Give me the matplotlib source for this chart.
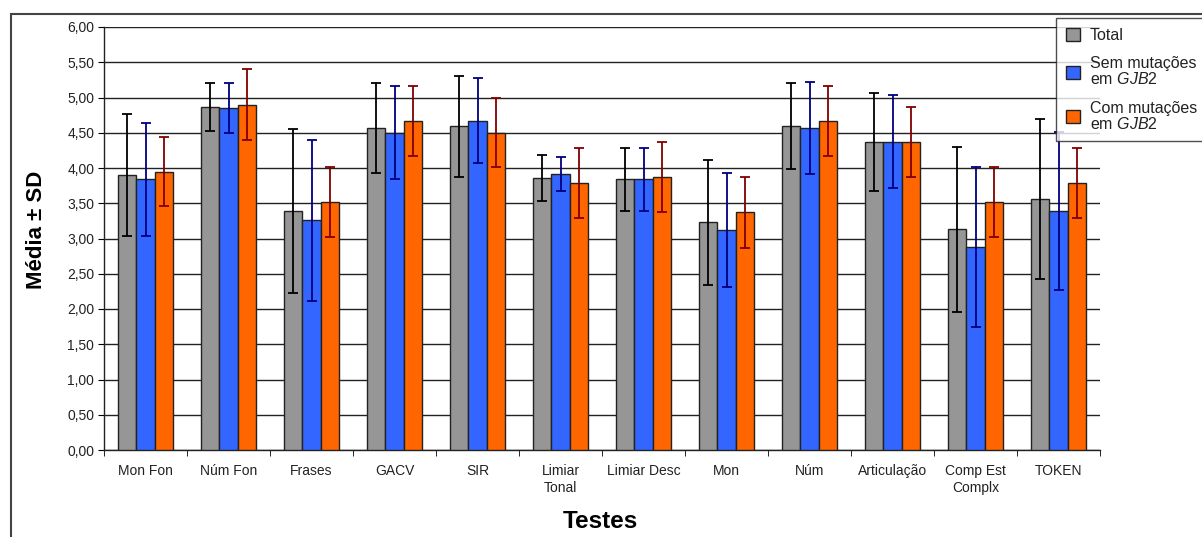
import numpy as np
import matplotlib
matplotlib.use("Agg")
import matplotlib.pyplot as plt
from matplotlib.patches import Rectangle
from matplotlib.ticker import FuncFormatter, MultipleLocator

plt.rcParams["font.family"] = ["Liberation Sans", "DejaVu Sans"]
plt.rcParams["mathtext.fontset"] = "custom"
plt.rcParams["mathtext.it"] = "Liberation Sans:italic"
plt.rcParams["mathtext.rm"] = "Liberation Sans"

categories = ["Mon Fon", "Núm Fon", "Frases", "GACV", "SIR", "Limiar\nTonal",
              "Limiar Desc", "Mon", "Núm", "Articulação", "Comp Est\nComplx", "TOKEN"]

# medias
total = [3.90, 4.87, 3.39, 4.57, 4.59, 3.86, 3.84, 3.23, 4.59, 4.37, 3.13, 3.56]
sem_mut = [3.84, 4.85, 3.26, 4.50, 4.67, 3.92, 3.84, 3.12, 4.57, 4.37, 2.88, 3.39]
com_mut = [3.95, 4.90, 3.52, 4.67, 4.50, 3.79, 3.87, 3.37, 4.67, 4.37, 3.52, 3.79]

# desvios padrao
total_sd = [0.86, 0.34, 1.16, 0.64, 0.72, 0.33, 0.45, 0.89, 0.61, 0.70, 1.17, 1.13]
sem_mut_sd = [0.80, 0.36, 1.14, 0.66, 0.60, 0.24, 0.45, 0.81, 0.65, 0.66, 1.14, 1.12]
com_mut_sd = [0.49, 0.50, 0.50, 0.50, 0.49, 0.50, 0.50, 0.50, 0.50, 0.50, 0.50, 0.50]

series = [
    ("Total", total, total_sd, "#969696", "#000000"),
    ("Sem mutações\nem $\\mathit{GJB2}$", sem_mut, sem_mut_sd, "#3366FF", "#000080"),
    ("Com mutações\nem $\\mathit{GJB2}$", com_mut, com_mut_sd, "#FF6600", "#800000"),
]

W, H = 1202, 537
fig = plt.figure(figsize=(W / 100, H / 100), dpi=100)
ax = fig.add_axes([104 / W, 1 - 450 / H, 996 / W, 423 / H])

x = np.arange(len(categories))
width = 0.223
for i, (label, vals, sds, color, ecolor) in enumerate(series):
    pos = x + (i - 1) * width
    ax.bar(pos, vals, width, color=color, edgecolor="#222222", linewidth=1.0,
           label=label, zorder=3)
    ax.errorbar(pos, vals, yerr=sds, fmt="none", ecolor=ecolor, elinewidth=1.3,
                capsize=3.5, capthick=1.3, zorder=4)

ax.set_xlim(-0.5, len(categories) - 0.5)
ax.set_ylim(0, 6)
ax.yaxis.set_major_locator(MultipleLocator(0.5))
ax.yaxis.set_major_formatter(FuncFormatter(lambda v, p: f"{v:.2f}".replace(".", ",")))
ax.grid(axis="y", color="#222222", linewidth=1.0, zorder=0)
ax.set_axisbelow(True)

ax.set_xticks(x)
ax.set_xticklabels(categories, fontsize=10, color="#222222", linespacing=1.25)
ax.set_xticks(np.arange(len(categories) + 1) - 0.5, minor=True)
ax.tick_params(axis="x", which="major", length=0, pad=10)
ax.tick_params(axis="x", which="minor", length=4, direction="out")
ax.tick_params(axis="y", length=4, direction="out", labelsize=10, labelcolor="#222222", pad=3)

for s in ["top", "right"]:
    ax.spines[s].set_visible(False)
for s in ["left", "bottom"]:
    ax.spines[s].set_color("#222222")
    ax.spines[s].set_linewidth(1.0)

fig.text(36 / W, 1 - 230 / H, "Média ± SD", rotation=90, ha="center", va="center",
         fontsize=16, fontweight="bold")
fig.text(600 / W, 1 - 521 / H, "Testes", ha="center", va="center",
         fontsize=17.5, fontweight="bold")

leg = ax.legend(loc="upper left", bbox_to_anchor=(1056 / W, 1 - 18 / H),
                bbox_transform=fig.transFigure, fontsize=11.5, frameon=True,
                fancybox=False, edgecolor="#222222", handlelength=0.9,
                handleheight=0.9, handletextpad=0.6, labelspacing=0.85,
                borderpad=0.6, borderaxespad=0)
for t in leg.get_texts():
    t.set_linespacing(1.0)
    t.set_color("#222222")
leg.get_frame().set_linewidth(1.0)
leg.set_zorder(10)

# moldura externa
fig.add_artist(Rectangle((11 / W, -0.1), 1.0, 1 - 14 / H + 0.1,
                         transform=fig.transFigure, fill=False,
                         edgecolor="#444444", linewidth=1.5))

fig.savefig("out.png", dpi=100)
